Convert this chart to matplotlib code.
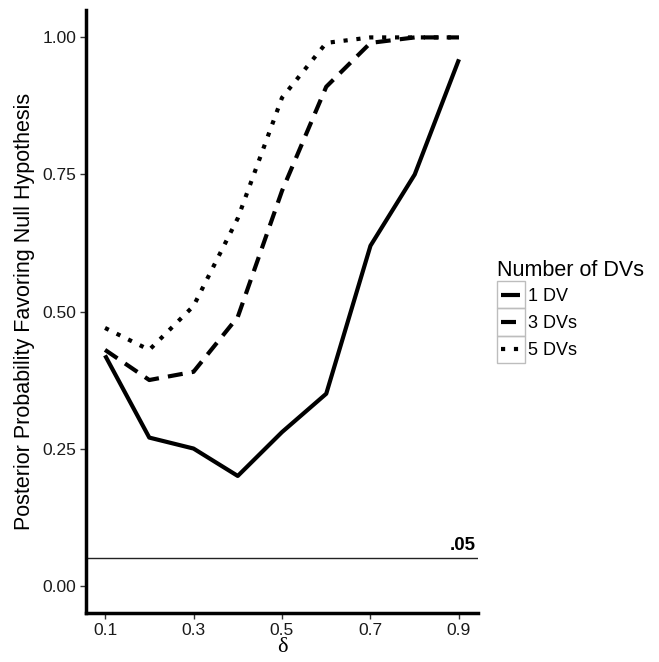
import matplotlib
matplotlib.use('Agg')
import matplotlib.pyplot as plt
from matplotlib.legend_handler import HandlerLine2D
from matplotlib.lines import Line2D
from matplotlib.patches import Rectangle

plt.rcParams['font.family'] = ['Liberation Sans', 'DejaVu Sans']

delta = [0.1, 0.2, 0.3, 0.4, 0.5, 0.6, 0.7, 0.8, 0.9]
dv1 = [0.42, 0.27, 0.25, 0.20, 0.28, 0.35, 0.62, 0.75, 0.96]
dv3 = [0.43, 0.375, 0.39, 0.49, 0.72, 0.91, 0.99, 1.00, 1.00]
dv5 = [0.47, 0.43, 0.51, 0.67, 0.89, 0.99, 1.00, 1.00, 1.00]
labels = ['1 DV', '3 DVs', '5 DVs']
xticks = [0.1, 0.3, 0.5, 0.7, 0.9]
yticks = [0.00, 0.25, 0.50, 0.75, 1.00]
cutoff = 0.05

styles = ['-', (0, (3.6, 2.2)), (0, (1, 2.1))]


class BoxedLine(HandlerLine2D):
    # legend key drawn inside a grey box, like ggplot
    def create_artists(self, legend, orig_handle, xdescent, ydescent,
                       width, height, fontsize, trans):
        box = Rectangle((-xdescent, -ydescent), width, height, fill=False,
                        edgecolor='#bdbdbd', lw=1, transform=trans)
        y = -ydescent + height / 2
        ln = Line2D([], [])
        ln.update_from(orig_handle)
        ln.set_data([-xdescent + 3, -xdescent + width - 3], [y, y])
        ln.set_transform(trans)
        ln.set_clip_on(False)
        ln.set_clip_box(None)
        return [box, ln]


fig = plt.figure(figsize=(6.59, 6.62), dpi=100)
ax = fig.add_axes([86/659, 49/662, 392/659, 603/662])

for vals, ls, lab in zip([dv1, dv3, dv5], styles, labels):
    ax.plot(delta, vals, color='black', lw=3, ls=ls, label=lab,
            solid_capstyle='butt', dash_capstyle='butt')

ax.axhline(cutoff, color='#222222', lw=1)
ax.text(0.937, cutoff + 0.007, '.05', ha='right', va='bottom',
        fontsize=13.5, fontweight='bold')

ax.set_xlim(0.057, 0.943)
ax.set_ylim(-0.05, 1.05)
ax.set_xticks(xticks)
ax.set_xticklabels(['%.1f' % v for v in xticks])
ax.set_yticks(yticks)
ax.set_yticklabels(['%.2f' % v for v in yticks])
ax.tick_params(labelsize=12.5, length=4, width=1, color='#333333',
               labelcolor='#1a1a1a', pad=3)

for s in ['top', 'right']:
    ax.spines[s].set_visible(False)
for s in ['left', 'bottom']:
    ax.spines[s].set_linewidth(2.5)

ax.set_xlabel('δ', fontsize=16, family=['Liberation Serif', 'DejaVu Serif'], labelpad=0)
ax.set_ylabel('Posterior Probability Favoring Null Hypothesis', fontsize=15.5, labelpad=5)

leg = ax.legend(title='Number of DVs', loc='center left', bbox_to_anchor=(1.048, 0.5),
                frameon=False, fontsize=13, title_fontsize=15.5, handlelength=1.54,
                handleheight=1.93, handletextpad=0.2, labelspacing=0.0,
                borderaxespad=0, borderpad=0,
                handler_map={Line2D: BoxedLine()})
leg._legend_box.align = 'left'

fig.savefig('out.png', dpi=100)
